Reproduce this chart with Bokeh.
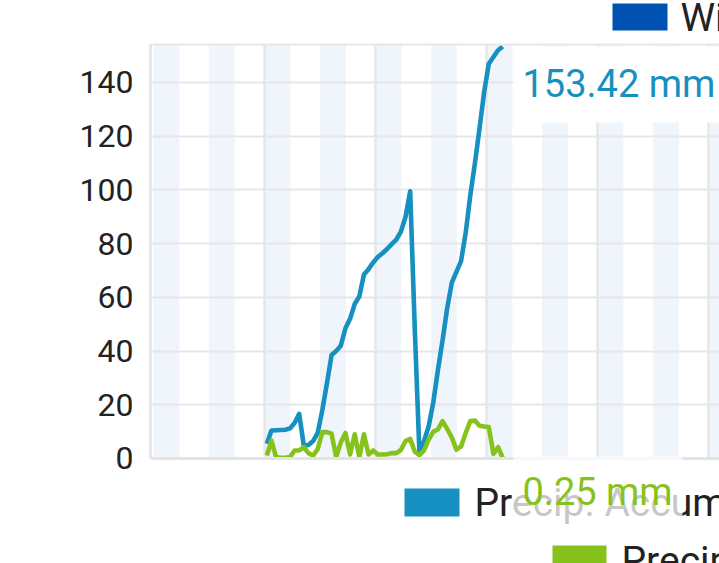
from bokeh.plotting import figure
from bokeh.models import Range1d, FixedTicker, Label, BoxAnnotation, Span
from bokeh.embed import file_html
from bokeh.resources import INLINE

# ---------------- data ----------------
hours = [h + 0.5 for h in range(52)]  # hourly samples, hours from start of day 1
precip_accum = [5.5, 10.4, 10.5, 10.6, 10.7, 11.2, 13.2, 16.6, 4.8, 5.0,
                6.5, 9.5, 18.0, 28.0, 38.5, 40.0, 42.0, 48.5, 52.0, 57.5,
                60.3, 68.5, 70.5, 73.0, 75.0, 76.4, 78.0, 79.8, 81.5, 84.5,
                90.0, 99.5, 48.0, 2.0, 6.5, 12.0, 21.0, 33.0, 44.0, 56.0,
                65.5, 69.5, 73.5, 84.0, 98.0, 110.0, 123.0, 136.5, 147.0, 149.5,
                152.0, 153.42]
precip = [1.1, 6.7, 0.5, 0.3, 0.3, 0.5, 3.0, 3.0, 4.2, 2.0,
          1.1, 3.5, 9.8, 9.8, 9.2, 0.5, 6.0, 9.5, 1.5, 9.0,
          0.5, 9.0, 1.5, 3.0, 1.5, 1.5, 1.6, 2.0, 2.0, 3.2,
          6.5, 7.3, 2.5, 1.2, 3.0, 7.0, 10.0, 10.8, 13.9, 11.0,
          7.8, 3.3, 4.5, 9.5, 13.9, 14.1, 12.2, 11.9, 11.7, 1.7,
          4.2, 0.25]
y_ticks = [0, 20, 40, 60, 80, 100, 120, 140]
day_lines = [0, 24, 48, 72, 96]
series_names = ["Precip. Accumulation", "Precipitation", "Wind Speed"]
unit = "mm"

# ---------------- layout / style ----------------
W, H = 719, 563
FL = 150                      # left edge of the plotting frame (px)
X0, X1 = -24.65, 98.38        # visible hours across the frame
Y0, Y1 = -39.1, 170.53        # value range across the full canvas height
YTOP = 154.15                 # top of the drawn plot area
BLUE = "#1590c0"
GREEN = "#86c21c"
WIND = "#0052b2"
BAND = "#eff5fa"
GRID = "#e6e7e9"
FONT = "Roboto"
LIFT = 12                     # baseline correction for labels (px)
LEGEND_SIZE = "39px"


def dx(px):
    return X0 + (px - FL) * (X1 - X0) / (W - FL)


def dy(py):
    return Y1 - py * (Y1 - Y0) / H


p = figure(width=W, height=H, x_range=Range1d(X0, X1), y_range=Range1d(Y0, Y1),
           output_backend="svg", toolbar_location=None, x_axis_location=None,
           min_border_left=FL, min_border_right=0, min_border_top=0,
           min_border_bottom=0)
p.outline_line_color = None
p.background_fill_color = "white"
p.border_fill_color = "white"

# y axis
p.yaxis.ticker = FixedTicker(ticks=y_ticks)
p.yaxis.bounds = (0, YTOP)
p.yaxis.major_tick_line_color = None
p.yaxis.minor_tick_line_color = None
p.yaxis.major_tick_out = 0
p.yaxis.major_label_standoff = 17
p.yaxis.major_label_text_font = FONT
p.yaxis.major_label_text_font_size = "32px"
p.yaxis.major_label_text_color = "#222222"
p.yaxis.axis_line_color = GRID
p.yaxis.axis_line_width = 3

p.xgrid.visible = False
p.ygrid.grid_line_color = GRID
p.ygrid.grid_line_width = 2

# alternating light bands (every half day)
band_starts = [k * 12 for k in range(-2, 9)]
p.quad(left=band_starts, right=[s + 5.6 for s in band_starts], bottom=0, top=YTOP,
       fill_color=BAND, line_color=None, level="image")

# day separators
p.segment(x0=day_lines, y0=[0] * len(day_lines), x1=day_lines,
          y1=[YTOP] * len(day_lines), line_color=GRID, line_width=2.5)

# top and bottom borders of the plot area
p.add_layout(Span(location=YTOP, dimension="width", line_color=GRID, line_width=2))
p.add_layout(Span(location=0, dimension="width", line_color="#e3e3e3", line_width=3))

# series
p.line(hours, precip_accum, line_color=BLUE, line_width=4.6, line_join="round")
p.line(hours, precip, line_color=GREEN, line_width=4.6, line_join="round")

# legend pieces
p.add_layout(BoxAnnotation(left=dx(612), right=dx(667), top=dy(3), bottom=dy(30),
                           fill_color=WIND, fill_alpha=1, line_color=None))
p.add_layout(Label(x=dx(680), y=dy(29 - LIFT), text=series_names[2], text_font=FONT,
                   text_font_size=LEGEND_SIZE, text_color="#222222",
                   text_baseline="alphabetic"))
p.add_layout(BoxAnnotation(left=dx(404), right=dx(459), top=dy(488), bottom=dy(516),
                           fill_color=BLUE, fill_alpha=1, line_color=None))
p.add_layout(Label(x=dx(474), y=dy(514 - LIFT), text=series_names[0], text_font=FONT,
                   text_font_size=LEGEND_SIZE, text_color="#222222",
                   text_baseline="alphabetic"))
p.add_layout(BoxAnnotation(left=dx(552), right=dx(606), top=dy(545), bottom=dy(573),
                           fill_color=GREEN, fill_alpha=1, line_color=None))
p.add_layout(Label(x=dx(621), y=dy(572 - LIFT), text=series_names[1], text_font=FONT,
                   text_font_size=LEGEND_SIZE, text_color="#222222",
                   text_baseline="alphabetic"))

# last-value labels with their backgrounds
p.add_layout(BoxAnnotation(left=dx(513), right=dx(740), top=dy(46), bottom=dy(122),
                           fill_color="white", fill_alpha=1, line_color=None,
                           level="overlay"))
p.add_layout(Label(x=dx(522), y=dy(95 - LIFT), text=f"{precip_accum[-1]:.2f} {unit}",
                   text_font=FONT, text_font_size="38px", text_color=BLUE,
                   text_baseline="alphabetic", level="overlay"))
p.add_layout(BoxAnnotation(left=dx(513), right=dx(682), top=dy(456), bottom=dy(525),
                           fill_color="white", fill_alpha=0.75, line_color=None,
                           level="overlay"))
p.add_layout(Label(x=dx(522), y=dy(503 - LIFT), text=f"{precip[-1]:.2f} {unit}",
                   text_font=FONT, text_font_size="38px", text_color=GREEN,
                   text_baseline="alphabetic", level="overlay"))

open("out.html", "w").write(file_html(p, INLINE))
